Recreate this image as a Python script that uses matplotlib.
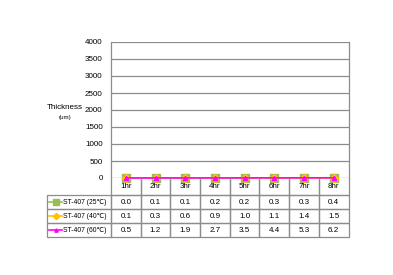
import matplotlib
matplotlib.use("Agg")
import matplotlib.pyplot as plt
from matplotlib.table import Table
from matplotlib.lines import Line2D

plt.rcParams["font.family"] = ["Liberation Sans", "DejaVu Sans"]

# Data
hours = ["1hr", "2hr", "3hr", "4hr", "5hr", "6hr", "7hr", "8hr"]
series_names = ["ST-407 (25℃)", "ST-407 (40℃)", "ST-407 (60℃)"]
st407_25 = [0.0, 0.1, 0.1, 0.2, 0.2, 0.3, 0.3, 0.4]
st407_40 = [0.1, 0.3, 0.6, 0.9, 1.0, 1.1, 1.4, 1.5]
st407_60 = [0.5, 1.2, 1.9, 2.7, 3.5, 4.4, 5.3, 6.2]
y_ticks = [0, 500, 1000, 1500, 2000, 2500, 3000, 3500, 4000]

series = [st407_25, st407_40, st407_60]
colors = ["#9BBB59", "#FFC000", "#FF00FF"]
markers = ["s", "D", "^"]
msizes = [5.6, 4.0, 3.0]

W, H = 393, 275
fig = plt.figure(figsize=(W / 100, H / 100), dpi=100)
left, right, top, bottom = 111, 348.5, 42, 178
ax = fig.add_axes([left / W, 1 - bottom / H, (right - left) / W, (bottom - top) / H])

x = list(range(len(hours)))
for vals, c, m, ms in zip(series, colors, markers, msizes):
    ax.plot(x, vals, color=c, lw=1.2, marker=m, markersize=ms,
            markerfacecolor=c, markeredgecolor=c, clip_on=False, zorder=3)

ax.set_xlim(-0.5, len(hours) - 0.5)
ax.set_ylim(0, 4000)
ax.set_yticks(y_ticks)
ax.set_yticklabels([str(v) for v in y_ticks], fontsize=5.8)
ax.tick_params(axis="y", length=0, pad=6)
ax.set_xticks([])
ax.grid(axis="y", color="#8c8c8c", lw=0.9)
ax.set_axisbelow(True)
for s in ["left", "right"]:
    ax.spines[s].set_color("#8c8c8c")
    ax.spines[s].set_linewidth(0.9)
ax.spines["top"].set_visible(False)
ax.spines["bottom"].set_visible(False)

fig.text(65 / W, 1 - 107 / H, "Thickness", fontsize=5.8, ha="center", va="center")
fig.text(65 / W, 1 - 117 / H, "(um)", fontsize=4.5, ha="center", va="center")

# data table under the plot
pw = right - left
ph = bottom - top
tab_left, tab_bottom = 47, 237
label_w = left - tab_left
col_w = pw / len(hours)
heights = [17, 14, 14, 14]
tb = Table(ax, bbox=[(tab_left - left) / pw, (bottom - tab_bottom) / ph,
                     (right - tab_left) / pw, (tab_bottom - bottom) / ph])
edge = "#8c8c8c"
c0 = tb.add_cell(0, 0, label_w, heights[0], text="")
c0.visible_edges = ""
for j, h in enumerate(hours):
    cell = tb.add_cell(0, j + 1, col_w, heights[0], text=h, loc="center")
    cell.visible_edges = "LRB"
for i, vals in enumerate(series):
    tb.add_cell(i + 1, 0, label_w, heights[i + 1], text="")
    for j, v in enumerate(vals):
        tb.add_cell(i + 1, j + 1, col_w, heights[i + 1], text=f"{v:.1f}", loc="center")
for cell in tb.get_celld().values():
    cell.set_edgecolor(edge)
    cell.set_facecolor("none")
    cell.set_linewidth(0.9)
tb.auto_set_font_size(False)
tb.set_fontsize(5.8)
tb.set_zorder(4)
ax.add_table(tb)

# legend keys and names inside row label cells
row_tops = [bottom + heights[0]]
for h in heights[1:]:
    row_tops.append(row_tops[-1] + h)
for i, (name, c, m, ms) in enumerate(zip(series_names, colors, markers, msizes)):
    yc = row_tops[i] + heights[i + 1] / 2
    yf = 1 - yc / H
    fig.add_artist(Line2D([49 / W, 62 / W], [yf, yf], color=c, lw=1.2))
    fig.add_artist(Line2D([55.5 / W], [yf], color=c, marker=m,
                          markersize=ms * 0.8, markerfacecolor=c, markeredgecolor=c))
    fig.text(63 / W, yf, name, fontsize=4.9, ha="left", va="center")

fig.savefig("out.png", dpi=100)
